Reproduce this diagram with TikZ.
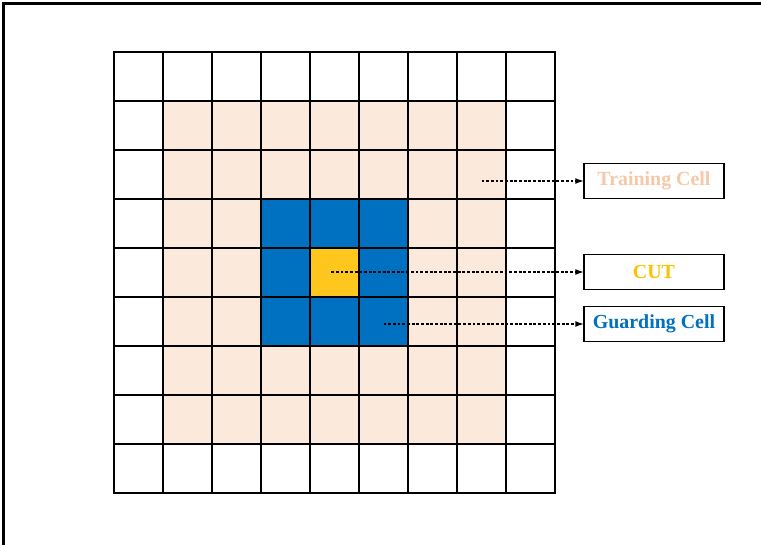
\documentclass[tikz,border=0pt]{standalone}
\usepackage{fontspec}
\setmainfont{Liberation Serif}
\usetikzlibrary{positioning,arrows.meta}

\definecolor{trainfill}{HTML}{FBE9DC}
\definecolor{traintext}{HTML}{F6C8A8}
\definecolor{guardcol}{HTML}{0070C0}
\definecolor{cutcol}{HTML}{FFC61E}
\definecolor{cuttext}{HTML}{FFC000}

\tikzset{
  cellbox/.style={draw=black, line width=1.2pt, minimum size=1.47cm, inner sep=0pt, outer sep=0pt},
  labelbox/.style={draw=black, line width=1.2pt, fill=white, minimum width=4.2cm, minimum height=1.05cm,
    outer sep=0pt, font=\bfseries\fontsize{17}{19}\selectfont},
  pointer/.style={line width=1.3pt, dash pattern=on 2.5pt off 1.5pt, -{Latex[length=2.6mm,width=1.8mm]}}
}

\begin{document}
\begin{tikzpicture}[x=0.03cm,y=-0.03cm]
\clip (0,0) rectangle (761,545);
\draw[line width=1.8pt] (3.5,3.5) rectangle (900,700);
% reference cells: CUT, guard ring, training ring, outer ring
\foreach \i in {0,...,8}{
  \foreach \j in {0,...,8}{
    \pgfmathtruncatemacro{\d}{max(abs(\i-4),abs(\j-4))}
    \ifcase\d \def\cellcol{cutcol}\or \def\cellcol{guardcol}\or \def\cellcol{trainfill}\or \def\cellcol{trainfill}\else \def\cellcol{white}\fi
    \node[cellbox, fill=\cellcol] (c-\i-\j) at (138.5+49*\i, 76.5+49*\j) {};
  }
}
\node[labelbox, text=cuttext] (cut) at (654,272) {CUT};
\node[labelbox, text=traintext, above=1.68cm of cut] (train) {Training Cell};
\node[labelbox, text=guardcol, below=0.51cm of cut] (guard) {Guarding Cell};
\draw[pointer] (train.west -| c-7-2) -- (train.west);
\draw[pointer] ([xshift=-0.1cm]cut.west -| c-4-4) -- (cut.west);
\draw[pointer] (guard.west -| c-5-5) -- (guard.west);
\end{tikzpicture}
\end{document}
